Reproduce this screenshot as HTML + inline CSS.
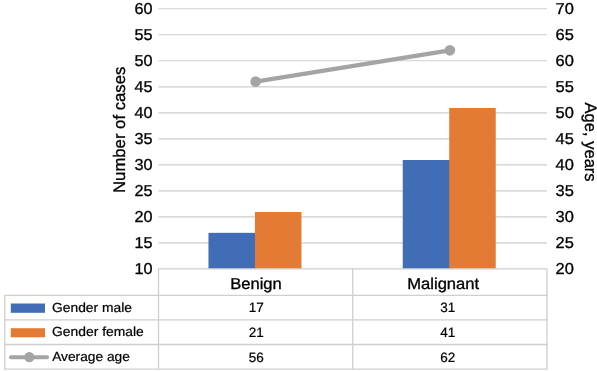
<!DOCTYPE html>
<html><head><meta charset="utf-8"><title>Chart</title>
<style>
html,body{margin:0;padding:0;background:#fff;}
svg{display:block;}
text{text-rendering:geometricPrecision;font-family:"Liberation Sans",sans-serif;fill:#000;stroke:#000;stroke-width:0.22px;}
.ax{font-size:15.8px;stroke-width:0.32px;}
.tt{font-size:16.7px;stroke-width:0.32px;}
.sm{font-size:13.5px;}
.lg{font-size:13.2px;}
</style></head><body>
<svg width="597" height="371" viewBox="0 0 597 371">
<rect width="597" height="371" fill="#fff"/>

<line x1="158.5" y1="8.75" x2="547.0" y2="8.75" stroke="#cecece" stroke-width="1.2"/>
<line x1="158.5" y1="34.76" x2="547.0" y2="34.76" stroke="#cecece" stroke-width="1.2"/>
<line x1="158.5" y1="60.77" x2="547.0" y2="60.77" stroke="#cecece" stroke-width="1.2"/>
<line x1="158.5" y1="86.78" x2="547.0" y2="86.78" stroke="#cecece" stroke-width="1.2"/>
<line x1="158.5" y1="112.79" x2="547.0" y2="112.79" stroke="#cecece" stroke-width="1.2"/>
<line x1="158.5" y1="138.80" x2="547.0" y2="138.80" stroke="#cecece" stroke-width="1.2"/>
<line x1="158.5" y1="164.81" x2="547.0" y2="164.81" stroke="#cecece" stroke-width="1.2"/>
<line x1="158.5" y1="190.82" x2="547.0" y2="190.82" stroke="#cecece" stroke-width="1.2"/>
<line x1="158.5" y1="216.83" x2="547.0" y2="216.83" stroke="#cecece" stroke-width="1.2"/>
<line x1="158.5" y1="242.84" x2="547.0" y2="242.84" stroke="#cecece" stroke-width="1.2"/>
<line x1="158.5" y1="268.85" x2="547.0" y2="268.85" stroke="#cecece" stroke-width="1.2"/>
<text class="ax" x="152.55" y="13.95" text-anchor="end" textLength="18.05" lengthAdjust="spacingAndGlyphs">60</text>
<text class="ax" x="152.55" y="39.96" text-anchor="end" textLength="18.05" lengthAdjust="spacingAndGlyphs">55</text>
<text class="ax" x="152.55" y="65.97" text-anchor="end" textLength="18.05" lengthAdjust="spacingAndGlyphs">50</text>
<text class="ax" x="152.55" y="91.98" text-anchor="end" textLength="18.05" lengthAdjust="spacingAndGlyphs">45</text>
<text class="ax" x="152.55" y="117.99" text-anchor="end" textLength="18.05" lengthAdjust="spacingAndGlyphs">40</text>
<text class="ax" x="152.55" y="144.00" text-anchor="end" textLength="18.05" lengthAdjust="spacingAndGlyphs">35</text>
<text class="ax" x="152.55" y="170.01" text-anchor="end" textLength="18.05" lengthAdjust="spacingAndGlyphs">30</text>
<text class="ax" x="152.55" y="196.02" text-anchor="end" textLength="18.05" lengthAdjust="spacingAndGlyphs">25</text>
<text class="ax" x="152.55" y="222.03" text-anchor="end" textLength="18.05" lengthAdjust="spacingAndGlyphs">20</text>
<text class="ax" x="152.55" y="248.04" text-anchor="end" textLength="18.05" lengthAdjust="spacingAndGlyphs">15</text>
<text class="ax" x="152.55" y="274.05" text-anchor="end" textLength="18.05" lengthAdjust="spacingAndGlyphs">10</text>
<text class="ax" x="555.6" y="13.95" textLength="18.3" lengthAdjust="spacingAndGlyphs">70</text>
<text class="ax" x="555.6" y="39.96" textLength="18.3" lengthAdjust="spacingAndGlyphs">65</text>
<text class="ax" x="555.6" y="65.97" textLength="18.3" lengthAdjust="spacingAndGlyphs">60</text>
<text class="ax" x="555.6" y="91.98" textLength="18.3" lengthAdjust="spacingAndGlyphs">55</text>
<text class="ax" x="555.6" y="117.99" textLength="18.3" lengthAdjust="spacingAndGlyphs">50</text>
<text class="ax" x="555.6" y="144.00" textLength="18.3" lengthAdjust="spacingAndGlyphs">45</text>
<text class="ax" x="555.6" y="170.01" textLength="18.3" lengthAdjust="spacingAndGlyphs">40</text>
<text class="ax" x="555.6" y="196.02" textLength="18.3" lengthAdjust="spacingAndGlyphs">35</text>
<text class="ax" x="555.6" y="222.03" textLength="18.3" lengthAdjust="spacingAndGlyphs">30</text>
<text class="ax" x="555.6" y="248.04" textLength="18.3" lengthAdjust="spacingAndGlyphs">25</text>
<text class="ax" x="555.6" y="274.05" textLength="18.3" lengthAdjust="spacingAndGlyphs">20</text>
<rect x="208.47" y="232.84" width="47.3" height="35.41" fill="#416db6"/>
<rect x="254.97" y="212.03" width="46.5" height="56.22" fill="#e37b34"/>
<rect x="402.73" y="160.01" width="47.3" height="108.24" fill="#416db6"/>
<rect x="449.23" y="107.99" width="46.5" height="160.26" fill="#e37b34"/>
<line x1="255.62" y1="81.58" x2="449.88" y2="50.37" stroke="#a4a4a4" stroke-width="4.2" stroke-linecap="round"/>
<circle cx="255.62" cy="81.58" r="5.3" fill="#a4a4a4"/>
<circle cx="449.88" cy="50.37" r="5.3" fill="#a4a4a4"/>
<path d="M158.5 268.85 V369.15 M352.75 268.85 V369.15 M547.0 268.85 V369.15 M4.8 295.4 V369.15" stroke="#cfcfcf" stroke-width="1.3" fill="none"/>
<line x1="4.2" y1="295.4" x2="547.6" y2="295.4" stroke="#cfcfcf" stroke-width="1.3" fill="none"/>
<line x1="4.2" y1="319.95" x2="547.6" y2="319.95" stroke="#cfcfcf" stroke-width="1.3" fill="none"/>
<line x1="4.2" y1="344.5" x2="547.6" y2="344.5" stroke="#cfcfcf" stroke-width="1.3" fill="none"/>
<line x1="4.2" y1="369.15" x2="547.6" y2="369.15" stroke="#cfcfcf" stroke-width="1.3" fill="none"/>
<text class="ax" x="230.2" y="289.4" textLength="51.6" lengthAdjust="spacingAndGlyphs">Benign</text>
<text class="ax" x="407.2" y="289.4" textLength="72.0" lengthAdjust="spacingAndGlyphs">Malignant</text>
<text class="sm" x="256.2" y="312.3" text-anchor="middle">17</text>
<text class="sm" x="447.8" y="312.3" text-anchor="middle">31</text>
<text class="sm" x="256.2" y="336.9" text-anchor="middle">21</text>
<text class="sm" x="447.8" y="336.9" text-anchor="middle">41</text>
<text class="sm" x="256.2" y="361.7" text-anchor="middle">56</text>
<text class="sm" x="447.8" y="361.7" text-anchor="middle">62</text>
<rect x="10.8" y="303.5" width="34.2" height="9.3" fill="#416db6"/>
<rect x="10.8" y="328.2" width="34.2" height="9.1" fill="#e37b34"/>
<line x1="11" y1="357.2" x2="47" y2="357.2" stroke="#a4a4a4" stroke-width="4" stroke-linecap="round"/>
<circle cx="29.3" cy="357.1" r="5.2" fill="#a4a4a4"/>
<text class="lg" x="52.1" y="311.6" textLength="79.8" lengthAdjust="spacingAndGlyphs">Gender male</text>
<text class="lg" x="52.1" y="336.1" textLength="91.6" lengthAdjust="spacingAndGlyphs">Gender female</text>
<text class="lg" x="52.2" y="360.6" textLength="77.6" lengthAdjust="spacingAndGlyphs">Average age</text>
<text class="tt" transform="translate(125.1,193) rotate(-90)" textLength="126.4" lengthAdjust="spacingAndGlyphs">Number of cases</text>
<text class="tt" transform="translate(585.0,102.6) rotate(90)" textLength="79" lengthAdjust="spacingAndGlyphs">Age, years</text>
</svg>
</body></html>
